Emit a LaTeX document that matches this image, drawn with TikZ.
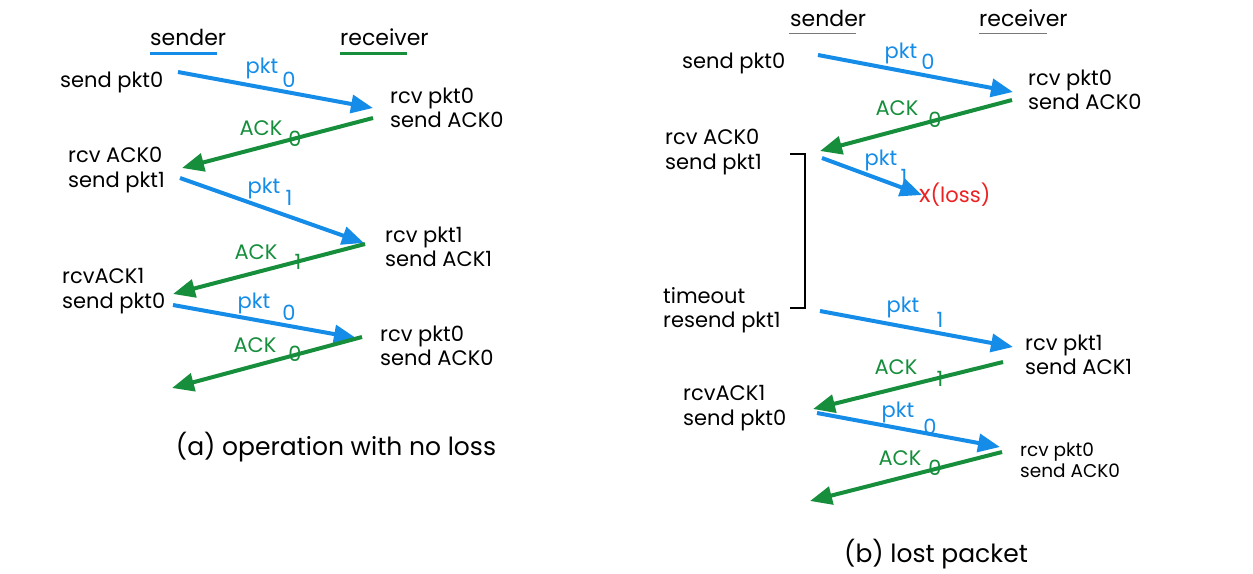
\documentclass[tikz,border=0pt]{standalone}
\usepackage{fontspec}
\setmainfont{Poppins}
\usetikzlibrary{arrows.meta}
\definecolor{pktblue}{RGB}{20,140,232}
\definecolor{ackgreen}{RGB}{22,142,60}
\definecolor{lossred}{RGB}{236,34,34}
\definecolor{rulegray}{RGB}{120,120,120}

\begin{document}
\begin{tikzpicture}[x=1pt,y=-1pt,
    txt/.style={font=\fontsize{21}{24.5}\selectfont, align=left, anchor=west, inner sep=0pt},
    small/.style={txt, font=\fontsize{18.5}{21}\selectfont},
    head/.style={txt, font=\fontsize{22}{24}\selectfont},
    captxt/.style={font=\fontsize{25}{28}\selectfont, inner sep=0pt},
    lbl/.style={font=\fontsize{21}{24}\selectfont, inner sep=0pt},
    pktarrow/.style={pktblue, line width=4pt, -{Triangle[length=22pt,width=18pt]}},
    ackarrow/.style={ackgreen, line width=4pt, -{Triangle[length=22pt,width=18pt]}}]
    \useasboundingbox (0,0) rectangle (1253,573);

    % (a) operation with no loss
    \node[head] (snda) at (150,37) {sender};
    \node[head] (rcva) at (340,37) {receiver};
    \draw[pktblue, line width=3pt] (150,53) -- (217,53);
    \draw[ackgreen, line width=3pt] (340,53) -- (407,53);
    \node[txt] (a1) at (60,82) {send pkt0};
    \node[txt] (a2) at (390,108) {rcv pkt0\\send ACK0};
    \node[txt] (a3) at (68,170) {rcv ACK0\\send pkt1};
    \node[txt] (a4) at (385,247) {rcv pkt1\\send ACK1};
    \node[txt] (a5) at (62,291) {rcvACK1\\send pkt0};
    \node[txt] (a6) at (380,346) {rcv pkt0\\send ACK0};
    \node[captxt] (capa) at (336,447) {(a) operation with no loss};

    % (b) lost packet
    \node[head] (sndb) at (790,18) {sender};
    \node[head] (rcvb) at (979,18) {receiver};
    \draw[rulegray, line width=1pt] (789,33) -- (856,33);
    \draw[rulegray, line width=1pt] (979,33) -- (1047,33);
    \node[txt] (b1) at (682,63) {send pkt0};
    \node[txt] (b2) at (1028,90) {rcv pkt0\\send ACK0};
    \node[txt] (b3) at (665,152) {rcv ACK0\\send pkt1};
    \node[txt, lossred] (loss) at (919,195) {{\fontsize{24}{24}\selectfont x}(loss)};
    \node[txt] (b4) at (663,310) {timeout\\resend pkt1};
    \node[txt] (b5) at (1025,355) {rcv pkt1\\send ACK1};
    \node[txt] (b6) at (683,408) {rcvACK1\\send pkt0};
    \node[small] (b7) at (1020,460) {rcv pkt0\\send ACK0};
    \node[captxt] (capb) at (936,554) {(b) lost packet};
    \draw[line width=2.2pt] (790,154) -- (805,154) -- (805,308) -- (790,308);

    % arrow ends
    \foreach \n/\x/\y in {p1/178/72, q1/373/108, p2/373/118, q2/182/168,
        p3/180/178, q3/364/243, p4/365/244, q4/173/294,
        p5/173/305, q5/356/338, p6/362/337, q6/172/388,
        p7/818/55, q7/1013/92, p8/1012/100, q8/820/151,
        p9/822/158, q9/922/195, p10/820/311, q10/1013/347,
        p11/1003/362, q11/813/409, p12/817/413, q12/1000/447,
        p13/1002/452, q13/810/501}
        \coordinate (\n) at (\x,\y);
    \foreach \a/\b in {p1/q1, p3/q3, p5/q5, p7/q7, p9/q9, p10/q10, p12/q12}
        \draw[pktarrow] (\a) -- (\b);
    \foreach \a/\b in {p2/q2, p4/q4, p6/q6, p8/q8, p11/q11, p13/q13}
        \draw[ackarrow] (\a) -- (\b);

    % message labels
    \foreach \x/\y/\u/\v/\s [count=\i] in {262/68/289/80/0, 264/188/289/198/1,
        254/303/289/313/0, 901/53/928/62/0, 881/160/904/177/1,
        903/307/940/320/1, 898/412/930/427/0} {
        \node[lbl, pktblue] (pl\i) at (\x,\y) {pkt};
        \node[lbl, pktblue] (ps\i) at (\u,\v) {\s};
    }
    \foreach \x/\y/\u/\v/\s [count=\i] in {261/128/295/139/0, 256/252/298/262/1,
        255/345/295/354/0, 897/108/935/120/0, 896/367/940/379/1,
        900/458/935/468/0} {
        \node[lbl, ackgreen] (al\i) at (\x,\y) {ACK};
        \node[lbl, ackgreen] (as\i) at (\u,\v) {\s};
    }
\end{tikzpicture}
\end{document}
